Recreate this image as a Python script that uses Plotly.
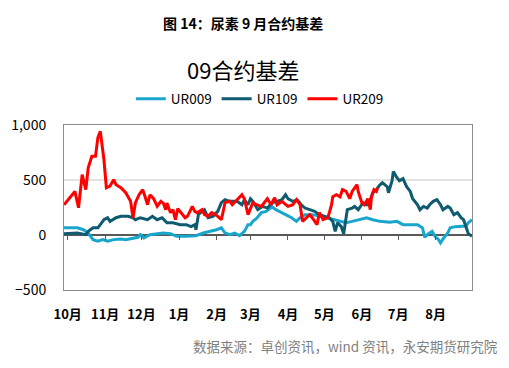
import plotly.graph_objects as go

# ---------------- data ----------------
month_ticks = ["2021-10-01", "2021-11-01", "2021-12-01", "2022-01-01", "2022-02-01",
               "2022-03-01", "2022-04-01", "2022-05-01", "2022-06-01", "2022-07-01",
               "2022-08-01"]
month_labels = ["10月", "11月", "12月", "1月", "2月", "3月", "4月", "5月", "6月", "7月", "8月"]

ur009_dates = ["2021-09-28", "2021-10-09", "2021-10-14", "2021-10-18", "2021-10-22", "2021-10-26",
               "2021-10-30", "2021-11-03", "2021-11-08", "2021-11-14", "2021-11-18", "2021-11-24",
               "2021-11-28", "2021-11-30", "2021-12-03", "2021-12-08", "2021-12-14", "2021-12-19",
               "2021-12-25", "2021-12-30", "2022-01-07", "2022-01-15", "2022-01-21", "2022-01-27",
               "2022-02-01", "2022-02-05", "2022-02-08", "2022-02-12", "2022-02-16", "2022-02-20",
               "2022-02-24", "2022-02-27", "2022-03-01", "2022-03-03", "2022-03-06", "2022-03-10",
               "2022-03-14", "2022-03-17", "2022-03-19", "2022-03-22", "2022-03-27", "2022-03-31",
               "2022-04-04", "2022-04-08", "2022-04-11", "2022-04-15", "2022-04-21", "2022-04-28",
               "2022-05-03", "2022-05-08", "2022-05-14", "2022-05-19", "2022-05-24", "2022-05-30",
               "2022-06-05", "2022-06-10", "2022-06-16", "2022-06-24", "2022-06-30", "2022-07-05",
               "2022-07-11", "2022-07-17", "2022-07-21", "2022-07-23", "2022-07-25", "2022-07-29",
               "2022-08-01", "2022-08-03", "2022-08-05", "2022-08-07", "2022-08-11", "2022-08-13",
               "2022-08-17", "2022-08-22", "2022-08-26", "2022-08-28", "2022-08-31"]
ur009_values = [66, 66, 48, 18, -42, -57,
                -42, -57, -42, -36, -42, -27,
                -21, 3, -27, 3, 12, 18,
                12, -12, -12, -6, 18, 33,
                48, 66, 18, 3, 18, -6,
                33, 94, 94, 124, 150, 203,
                215, 240, 255, 230, 203, 185,
                157, 124, 157, 185, 185, 170,
                157, 139, 124, 112, 124, 139,
                157, 139, 124, 115, 124, 94,
                94, 94, 66, -21, 3, 33,
                -21, -36, -72, -36, 18, 66,
                76, 76, 82, 112, 139]

ur109_dates = ["2021-09-28", "2021-10-09", "2021-10-16", "2021-10-18", "2021-10-22", "2021-10-26",
               "2021-10-28", "2021-10-31", "2021-11-03", "2021-11-05", "2021-11-10", "2021-11-14",
               "2021-11-20", "2021-11-24", "2021-11-26", "2021-11-30", "2021-12-06", "2021-12-10",
               "2021-12-14", "2021-12-18", "2021-12-22", "2021-12-27", "2022-01-02", "2022-01-07",
               "2022-01-11", "2022-01-14", "2022-01-15", "2022-01-17", "2022-01-20", "2022-01-22",
               "2022-01-25", "2022-01-29", "2022-02-02", "2022-02-05", "2022-02-08", "2022-02-12",
               "2022-02-18", "2022-02-22", "2022-02-24", "2022-02-27", "2022-03-01", "2022-03-03",
               "2022-03-07", "2022-03-11", "2022-03-15", "2022-03-19", "2022-03-23", "2022-03-27",
               "2022-03-30", "2022-04-01", "2022-04-05", "2022-04-09", "2022-04-12", "2022-04-15",
               "2022-04-19", "2022-04-23", "2022-04-27", "2022-05-01", "2022-05-05", "2022-05-08",
               "2022-05-10", "2022-05-12", "2022-05-15", "2022-05-17", "2022-05-19", "2022-05-20",
               "2022-05-24", "2022-05-26", "2022-05-29", "2022-06-02", "2022-06-05", "2022-06-08",
               "2022-06-10", "2022-06-13", "2022-06-16", "2022-06-18", "2022-06-22", "2022-06-23",
               "2022-06-26", "2022-06-27", "2022-06-30", "2022-07-02", "2022-07-05", "2022-07-08",
               "2022-07-11", "2022-07-13", "2022-07-17", "2022-07-19", "2022-07-22", "2022-07-25",
               "2022-07-27", "2022-07-30", "2022-08-02", "2022-08-05", "2022-08-07", "2022-08-11",
               "2022-08-13", "2022-08-16", "2022-08-19", "2022-08-22", "2022-08-24", "2022-08-28",
               "2022-08-30", "2022-08-31"]
ur109_values = [12, 18, 3, 33, 66, 66,
                94, 139, 157, 124, 157, 170,
                170, 157, 139, 157, 139, 170,
                139, 157, 112, 112, 94, 94,
                76, 94, 48, 185, 215, 230,
                157, 170, 215, 294, 321, 306,
                306, 275, 321, 275, 330, 306,
                230, 260, 245, 294, 306, 321,
                366, 330, 306, 315, 275, 245,
                230, 215, 185, 170, 157, 124,
                33, 112, 76, 12, 157, 230,
                245, 260, 230, 294, 275, 321,
                384, 412, 457, 475, 439, 384,
                493, 578, 521, 493, 512, 439,
                396, 330, 275, 230, 260, 245,
                275, 306, 321, 275, 230, 260,
                245, 185, 203, 157, 139, 12,
                -3, -12]

ur209_dates = ["2021-09-28", "2021-10-07", "2021-10-10", "2021-10-13", "2021-10-16", "2021-10-18",
               "2021-10-21", "2021-10-24", "2021-10-26", "2021-10-28", "2021-10-31", "2021-11-02",
               "2021-11-05", "2021-11-08", "2021-11-10", "2021-11-14", "2021-11-18", "2021-11-22",
               "2021-11-24", "2021-11-26", "2021-11-29", "2021-12-02", "2021-12-04", "2021-12-06",
               "2021-12-08", "2021-12-11", "2021-12-14", "2021-12-17", "2021-12-19", "2021-12-21",
               "2021-12-22", "2021-12-25", "2021-12-27", "2021-12-29", "2021-12-31", "2022-01-04",
               "2022-01-06", "2022-01-08", "2022-01-12", "2022-01-14", "2022-01-16", "2022-01-20",
               "2022-01-22", "2022-01-25", "2022-01-28", "2022-01-31", "2022-02-02", "2022-02-05",
               "2022-02-08", "2022-02-12", "2022-02-14", "2022-02-18", "2022-02-22", "2022-02-24",
               "2022-02-27", "2022-03-03", "2022-03-06", "2022-03-10", "2022-03-13", "2022-03-15",
               "2022-03-18", "2022-03-21", "2022-03-23", "2022-03-27", "2022-04-01", "2022-04-05",
               "2022-04-08", "2022-04-11", "2022-04-13", "2022-04-16", "2022-04-19", "2022-04-21",
               "2022-04-25", "2022-04-27", "2022-04-30", "2022-05-04", "2022-05-07", "2022-05-08",
               "2022-05-11", "2022-05-14", "2022-05-16", "2022-05-19", "2022-05-22", "2022-05-24",
               "2022-05-28", "2022-05-29", "2022-06-01", "2022-06-03", "2022-06-06", "2022-06-08",
               "2022-06-09", "2022-06-11", "2022-06-13", "2022-06-14"]
ur209_values = [275, 396, 248, 548, 412, 611,
                715, 715, 885, 942, 684, 430,
                445, 503, 457, 430, 384, 306,
                157, 294, 366, 412, 348, 275,
                366, 330, 260, 306, 290, 230,
                290, 203, 230, 139, 240, 185,
                157, 170, 260, 215, 203, 230,
                185, 170, 203, 185, 170, 139,
                294, 306, 275, 321, 366, 330,
                185, 294, 275, 260, 306, 330,
                275, 339, 275, 306, 260, 275,
                321, 275, 124, 157, 185, 157,
                94, 203, 139, 157, 275, 348,
                366, 348, 412, 396, 330, 396,
                457, 396, 294, 275, 330, 230,
                348, 412, 396, 428]

series = [("UR009", ur009_dates, ur009_values, "#19A6CC"),
          ("UR109", ur109_dates, ur109_values, "#0E5A6E"),
          ("UR209", ur209_dates, ur209_values, "#FF0000")]

x_range = ["2021-09-28", "2022-08-31"]
y_range = [-500, 1000]

# ---------------- figure ----------------
FONT = "Noto Sans CJK SC"
fig = go.Figure()
# invisible helper trace so the zero-line tick axis (xaxis2) is rendered
fig.add_trace(go.Scatter(x=ur009_dates, y=ur009_values, xaxis="x2", mode="lines",
                         opacity=0, showlegend=False, hoverinfo="skip",
                         line=dict(width=0)))
for name, xs, ys, color in series:
    fig.add_trace(go.Scatter(x=xs, y=ys, name=name, mode="lines",
                             line=dict(color=color, width=3)))

frame_color = "#8c8c8c"
fig.update_layout(
    template="none",
    width=509, height=368,
    margin=dict(l=64, r=37, t=125, b=78, autoexpand=False),
    paper_bgcolor="white", plot_bgcolor="white",
    font=dict(family=FONT, color="#000000"),
    showlegend=True,
    legend=dict(orientation="h", x=0.48, xanchor="center", y=1.158, yanchor="middle",
                font=dict(size=13.5, family=FONT, color="#000"),
                itemwidth=30, tracegroupgap=0, bgcolor="rgba(0,0,0,0)"),
    xaxis=dict(type="date", range=x_range, tickvals=month_ticks, ticktext=month_labels,
               automargin=False, showgrid=False, zeroline=False, ticks="",
               showline=True, mirror=True, linecolor=frame_color, linewidth=1,
               tickfont=dict(size=13, family=FONT, weight="bold", color="#000"),
               ticklabelstandoff=12),
    xaxis2=dict(type="date", range=x_range, tickvals=month_ticks, overlaying="x",
                anchor="free", position=(0 - y_range[0]) / (y_range[1] - y_range[0]),
                automargin=False, showticklabels=False, ticks="outside", ticklen=4, tickwidth=1,
                tickcolor="#595959", showline=False, showgrid=False, zeroline=False),
    yaxis=dict(range=y_range, tickvals=[-500, 0, 500, 1000], tickformat=",",
               automargin=False,
               showgrid=True, gridcolor="#e3e3e3", gridwidth=1.5,
               zeroline=True, zerolinecolor="#595959", zerolinewidth=1.5,
               showline=True, mirror=True, linecolor=frame_color, linewidth=1,
               ticks="", ticklabelstandoff=14,
               tickfont=dict(size=14, family=FONT, color="#000")),
    annotations=[
        dict(text="图 14：尿素 9 月合约基差", xref="paper", yref="paper",
             x=0.439, y=1.618, xanchor="center", yanchor="middle", showarrow=False,
             font=dict(size=14, family=FONT, weight="bold", color="#000")),
        dict(text="09合约基差", xref="paper", yref="paper",
             x=0.439, y=1.34, xanchor="center", yanchor="middle", showarrow=False,
             font=dict(size=22, family=FONT, color="#000")),
        dict(text="数据来源：卓创资讯，wind 资讯，永安期货研究院", xref="paper", yref="paper",
             x=1.069, y=-0.339, xanchor="right", yanchor="middle", showarrow=False,
             font=dict(size=13.5, family=FONT, color="#7f7f7f")),
    ],
)

fig.write_html("out.html", config={"displayModeBar": False},
               post_script="document.body.style.margin='0';document.body.style.overflow='hidden';")
